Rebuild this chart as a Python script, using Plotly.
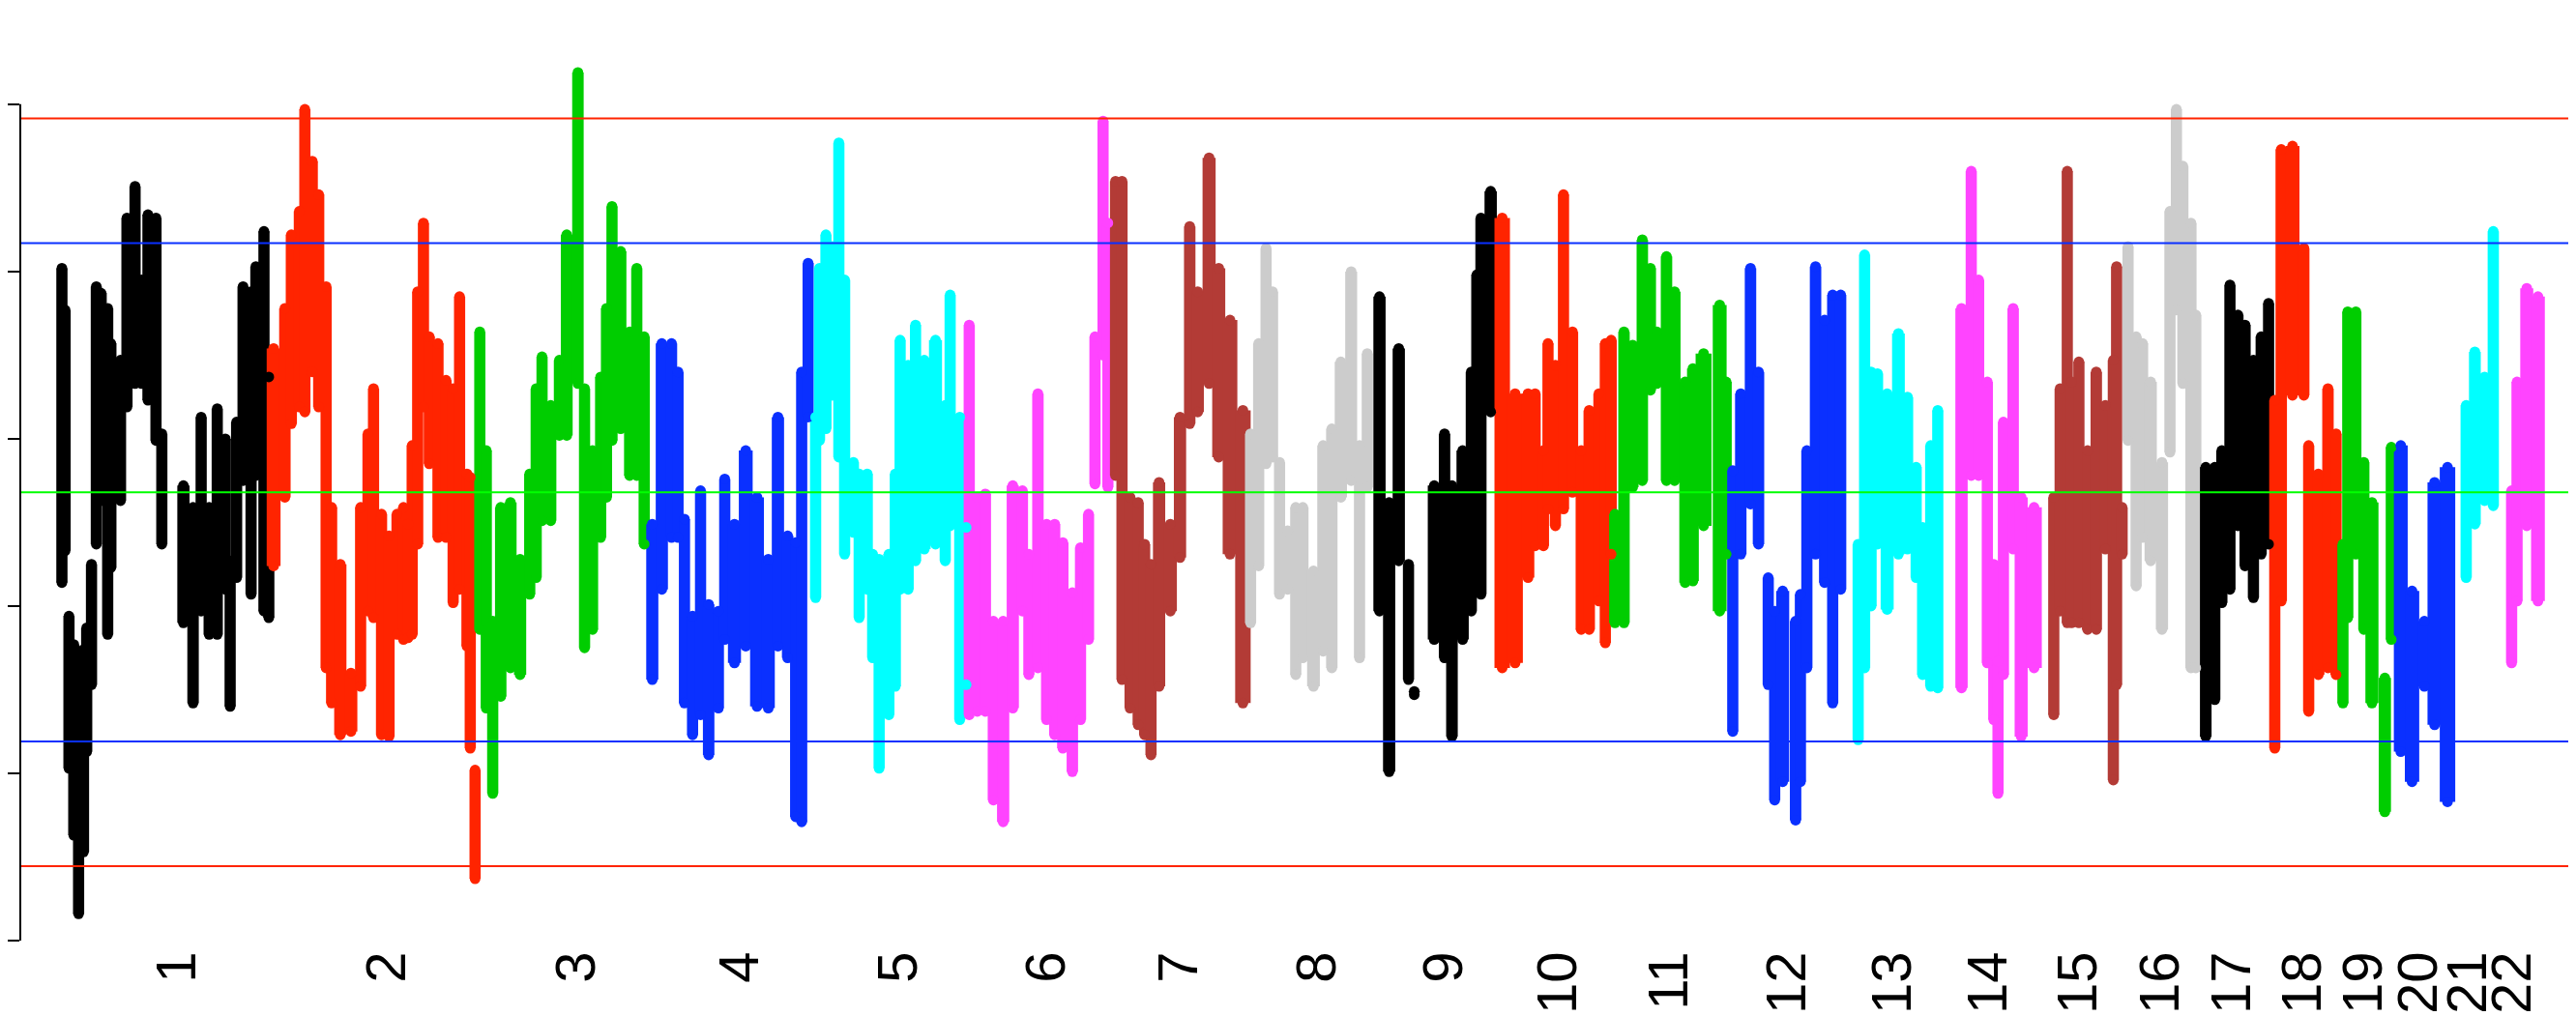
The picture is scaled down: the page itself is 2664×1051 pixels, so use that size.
import plotly.graph_objects as go

# ---------------- data ----------------
CHROMS = [str(i) for i in range(1, 23)]
# visible span of each chromosome on the genome axis (Mb)
CHROM_LEN = [246, 237, 204.5, 185, 183, 167, 158, 146, 143, 137, 135, 139,
             125, 97, 98, 88, 84, 78, 65, 73, 52, 47]
# positions (cumulative Mb) where the chromosome labels sit
LABEL_POS = [137.0, 381.0, 601.0, 791.0, 975.5, 1147.3, 1301.8, 1462.0, 1609.0,
             1742.0, 1871.0, 2008.0, 2130.5, 2241.7, 2346.2, 2441.7, 2524.8,
             2607.0, 2677.6, 2741.7, 2799.0, 2850.7]
PALETTE = ["#000000", "#FF2400", "#00CD00", "#0A30FF",
           "#00FFFF", "#FF44FF", "#B33B36", "#CCCCCC"]

# each chromosome: (position within chromosome in Mb, local max, local min); None = gap
CHR1 = [(3.4, 4.05, 2.11), (7.1, 3.8, 2.3), (11.6, 1.97, 1.0), (17.2, 1.8, 0.6),
        (22.8, 1.6, 0.13), (28.5, 1.77, 0.5), (32.2, 1.9, 1.1), (37.8, 2.28, 1.5),
        (43.4, 3.94, 2.34), (49.0, 3.9, 2.6), (56.6, 3.81, 1.8), (60.3, 3.6, 2.2),
        (65.9, 3.37, 2.75), (71.5, 3.5, 2.6), (79.0, 4.35, 3.16), (88.4, 4.54, 3.30),
        (95.9, 3.98, 3.30), (103.4, 4.37, 3.2), (112.7, 4.35, 2.96), (119.5, 3.06, 2.34),
        None,
        (144.6, 2.75, 1.87), (155.8, 2.62, 1.39), (165.2, 3.16, 1.94), (174.5, 2.62, 1.8),
        (183.9, 3.21, 1.8), (193.3, 3.03, 2.07), (198.9, 2.3, 1.37), (206.4, 3.13, 2.14),
        (213.9, 3.94, 2.72), (223.2, 3.91, 2.04), (228.8, 4.06, 2.75), (238.2, 4.27, 1.94),
        (243.8, 3.4, 1.9)]
CHR2 = [(3.4, 3.57, 2.21), (16.5, 3.81, 2.62), (24.0, 4.25, 3.06), (33.3, 4.39, 3.16),
        (39.7, 5.0, 3.13), (48.3, 4.69, 3.37), (55.8, 4.49, 3.16), (64.4, 3.94, 1.6),
        (70.8, 2.62, 1.39), (80.9, 2.28, 1.20), (93.3, 1.63, 1.22), (104.5, 2.62, 1.49),
        (113.1, 3.06, 1.94), (119.5, 3.33, 1.90), (128.8, 2.58, 1.20), (137.5, 2.45, 1.19),
        (146.8, 2.58, 1.80), (154.3, 2.62, 1.77), (159.6, 2.52, 1.78), (164.4, 2.99, 1.80),
        (170.8, 3.91, 2.34), (177.5, 4.32, 3.16), (184.3, 3.64, 2.82), (194.4, 3.60, 2.38),
        (203.7, 3.38, 2.38), (212.0, 3.33, 1.99), (219.5, 3.88, 2.07), (228.1, 2.82, 1.73),
        (231.9, 2.8, 1.12), (237.5, 1.05, 0.34)]
CHR3 = [(6.0, 3.67, 1.83), (13.5, 2.96, 1.36), (21.0, 1.94, 0.85), (30.3, 2.62, 1.43),
        (41.6, 2.65, 1.6), (52.8, 2.31, 1.56), (64.0, 2.82, 2.04), (71.5, 3.33, 2.14),
        (78.3, 3.52, 2.48), (88.4, 3.23, 2.48), (98.5, 3.50, 2.99), (107.0, 4.25, 2.99),
        (120.0, 5.22, 3.30), (127.7, 3.33, 1.72), (137.0, 2.96, 1.83), (146.4, 3.40, 2.38),
        (153.2, 3.81, 2.62), (159.6, 4.42, 2.96), (169.7, 4.15, 3.03), (180.1, 3.67, 2.75),
        (188.4, 4.05, 2.75), (197.0, 3.64, 2.34)]
CHR4 = [(1.9, 2.52, 1.53), (13.0, 3.60, 2.07), (24.3, 3.60, 2.38), (31.8, 3.43, 2.38),
        (39.3, 2.55, 1.39), (48.7, 1.97, 1.20), (58.0, 2.72, 1.32), (67.4, 2.04, 1.08),
        (78.7, 2.00, 1.36), (86.1, 2.79, 1.77), (97.4, 2.52, 1.63), (110.5, 2.96, 1.73),
        (123.6, 2.68, 1.37), (136.7, 2.31, 1.36), (147.9, 3.16, 1.73), (159.2, 2.45, 1.66),
        (168.5, 2.41, 0.71), (175.5, 3.43, 0.68), (183.0, 4.08, 3.1)]
CHR5 = [(6.7, 3.16, 2.02), (11.2, 4.05, 2.96), (18.7, 4.25, 3.03), (26.2, 4.18, 3.23),
        (33.7, 4.80, 2.86), (40.4, 3.98, 2.28), (50.6, 2.89, 2.41), (57.3, 2.82, 1.90),
        (66.7, 2.82, 2.07), (73.0, 2.34, 1.66), (80.5, 2.31, 1.0), (91.8, 2.34, 1.32),
        (99.3, 2.82, 1.49), (104.9, 3.62, 2.07), (114.2, 3.47, 2.07), (122.8, 3.71, 2.24),
        (133.0, 3.50, 2.31), (146.0, 3.62, 2.34), (157.3, 3.23, 2.24), (163.0, 3.89, 2.45),
        (174.2, 3.16, 1.29), (181.6, 2.5, 1.5)]
CHR6 = [(2.2, 3.71, 1.32), (11.6, 2.68, 1.34), (21.0, 2.70, 1.34), (30.3, 1.94, 0.81),
        (41.6, 1.94, 0.68), (52.8, 2.75, 1.36), (64.0, 2.72, 1.94), (71.5, 2.34, 1.56),
        (82.0, 3.30, 1.6), (92.1, 2.52, 1.29), (101.5, 2.52, 1.20), (110.9, 2.41, 1.12),
        (122.0, 2.11, 0.98), (131.5, 2.38, 1.29), (140.8, 2.58, 1.77), (148.3, 3.64, 2.7),
        (157.7, 4.93, 3.47), (163.3, 4.32, 2.68)]
CHR7 = [(5.2, 4.57, 2.75), (12.7, 4.57, 1.53), (22.1, 2.68, 1.36), (31.5, 2.65, 1.26),
        (39.0, 2.4, 1.2), (46.4, 2.28, 1.08), (55.8, 2.77, 1.49), (68.9, 2.52, 1.94),
        (80.1, 3.16, 2.26), (91.4, 4.30, 3.06), (100.7, 3.91, 3.13), (113.9, 4.71, 3.30),
        (125.1, 4.05, 2.86), (138.2, 3.74, 2.28), (153.2, 3.20, 1.39)]
CHR8 = [(4.1, 3.06, 1.87), (13.5, 3.60, 2.21), (22.1, 4.17, 2.82), (29.6, 3.91, 2.86),
        (37.8, 2.89, 2.04), (47.2, 2.48, 2.07), (56.6, 2.62, 1.56), (64.8, 2.62, 1.66),
        (77.2, 2.24, 1.49), (88.4, 2.99, 1.70), (98.5, 3.09, 1.6), (109.0, 3.49, 2.62),
        (121.0, 4.03, 2.72), (130.7, 2.99, 1.66), (139.7, 3.54, 2.68)]
CHR9 = [(7.9, 3.88, 1.94), (19.1, 2.65, 0.98), (30.3, 3.57, 2.24), (41.6, 2.28, 1.53),
        (48.3, 1.5, 1.46),
        None,
        (71.5, 2.75, 1.77), (83.5, 3.06, 1.66), (92.1, 2.75, 1.19), (104.5, 2.96, 1.77),
        (114.6, 3.43, 1.94), (121.0, 4.01, 2.2), (125.8, 4.35, 2.04), (137.1, 4.51, 3.13)]
CHR10 = [(7.5, 4.35, 1.6), (22.5, 3.30, 1.63), (37.5, 3.30, 2.14), (45.7, 3.30, 2.33),
         (55.4, 2.96, 2.33), (60.7, 3.60, 2.55), (69.3, 3.47, 2.45), (78.7, 4.49, 2.55),
         (89.1, 3.67, 2.65), (99.3, 2.96, 1.83), (108.6, 3.20, 1.83), (119.9, 3.30, 2.0),
         (127.3, 3.60, 1.75), (134.1, 3.62, 2.28)]
CHR11 = [(1.5, 2.58, 1.87), (12.0, 3.67, 1.87), (22.1, 3.59, 2.68), (33.3, 4.22, 2.72),
         (42.7, 4.05, 3.26), (50.2, 3.67, 3.3), (61.4, 4.12, 2.72), (70.8, 3.91, 2.72),
         (83.1, 3.37, 2.11), (92.1, 3.45, 2.12), (104.5, 3.54, 2.45), (123.2, 3.83, 1.94),
         (130.7, 3.37, 2.28)]
CHR12 = [(3.4, 2.84, 1.22), (12.7, 3.30, 2.28), (24.0, 4.05, 2.58), (33.3, 3.43, 2.34),
         (44.6, 2.2, 1.5), (52.1, 2.0, 0.81), (61.4, 2.12, 0.92), (76.4, 1.94, 0.69),
         (82.0, 2.1, 0.92), (89.5, 2.96, 1.60), (99.6, 4.06, 2.28), (110.1, 3.74, 2.11),
         (119.5, 3.89, 1.39), (128.8, 3.89, 2.07)]
CHR13 = [(10.1, 2.4, 1.17), (17.6, 4.13, 1.6), (25.1, 3.43, 1.97), (32.6, 3.42, 2.34),
         (43.8, 3.30, 1.95), (56.9, 3.66, 2.28), (67.4, 3.28, 2.31), (77.5, 2.86, 2.14),
         (85.0, 2.5, 1.56), (94.4, 2.99, 1.49), (102.6, 3.20, 1.48)]
CHR14 = [(5.2, 3.81, 1.48), (16.5, 4.63, 2.75), (25.1, 3.98, 2.75), (35.2, 3.37, 1.63),
         (42.7, 2.28, 1.29), (47.6, 1.7, 0.85), (53.9, 3.13, 1.56), (65.2, 3.81, 2.31),
         (74.5, 2.68, 1.19), (89.5, 2.62, 1.6)]
CHR15 = [(15.4, 2.68, 1.32), (22.8, 3.33, 1.94), (31.1, 4.63, 1.87), (36.0, 3.37, 1.87),
         (44.6, 3.49, 1.87), (54.7, 2.96, 1.83), (64.8, 3.43, 1.83), (75.3, 3.23, 2.31),
         (84.6, 3.5, 0.93), (88.4, 4.06, 1.5), (94.8, 2.62, 2.28)]
CHR16 = [(3.7, 4.18, 2.96), (13.1, 3.64, 2.09), (20.6, 3.60, 2.38), (30.0, 3.37, 2.24),
         (43.1, 2.89, 1.83), (52.4, 4.39, 2.89), (59.9, 5.0, 3.74), (67.4, 4.66, 3.30),
         (76.8, 4.32, 1.6), (82.4, 3.77, 1.6)]
CHR17 = [(6.0, 2.86, 1.19), (16.5, 2.86, 1.41), (24.7, 2.96, 1.99), (34.1, 3.95, 2.07),
         (43.4, 3.77, 2.45), (51.7, 3.71, 2.21), (61.4, 3.50, 2.02), (70.4, 3.64, 2.28),
         (79.0, 3.84, 2.34)]
CHR18 = [(2.2, 3.26, 1.12), (9.7, 4.76, 2.0), (22.8, 4.78, 3.23), (36.0, 4.17, 3.23),
         (41.6, 2.99, 1.34), (52.8, 2.82, 1.56), (64.0, 3.33, 1.6), (73.4, 3.06, 1.56)]
CHR19 = [(3.4, 2.4, 1.39), (9.0, 3.79, 1.9), (18.4, 3.79, 2.28), (27.7, 2.89, 1.83),
         (37.1, 2.65, 1.39), (52.1, 1.6, 0.74), (59.6, 2.98, 1.77)]
CHR20 = [(5.6, 2.99, 1.10), (18.7, 2.12, 0.92), (33.0, 1.94, 1.49), (44.9, 2.77, 1.26),
         (59.9, 2.86, 0.80)]
CHR21 = [(8.6, 3.23, 2.14), (18.7, 3.55, 2.46), (30.0, 3.4, 2.6), (40.1, 4.27, 2.57)]
CHR22 = [(9.4, 2.72, 1.63), (15.7, 3.37, 2.0), (27.0, 3.93, 2.45), (40.0, 3.88, 2.0)]

CHR_DATA = [CHR1, CHR2, CHR3, CHR4, CHR5, CHR6, CHR7, CHR8, CHR9, CHR10, CHR11,
            CHR12, CHR13, CHR14, CHR15, CHR16, CHR17, CHR18, CHR19, CHR20, CHR21, CHR22]

# genome-wide mean and standard deviation (threshold lines at +-2 SD and +-3 SD)
MEAN = 2.68
SD = 0.745
Y_TICKS = [0, 1, 2, 3, 4, 5]

MIN_W = 13.0     # minimum stroke width in Mb (about one plotting dot)
CAP = 0.03       # dot radius expressed in y units (rounded stroke ends)

# ---------------- figure ----------------
fig = go.Figure()

offset = 0.0
for idx, (rows, length) in enumerate(zip(CHR_DATA, CHROM_LEN)):
    col = PALETTE[idx % len(PALETTE)]
    runs, cur = [], []
    for r in rows:
        if r is None:
            if cur:
                runs.append(cur)
            cur = []
        else:
            cur.append(r)
    if cur:
        runs.append(cur)
    xs, bases, heights, widths, tops = [], [], [], [], []
    for run in runs:
        n = len(run)
        for i, (p, hi, lo) in enumerate(run):
            left = (p - run[i - 1][0]) if i > 0 else None
            right = (run[i + 1][0] - p) if i < n - 1 else None
            if left is None and right is None:
                w = MIN_W
            elif left is None:
                w = right
            elif right is None:
                w = left
            else:
                w = (left + right) / 2
            w = max(MIN_W, w + 3)
            xs.append(offset + p)
            bases.append(lo + CAP)
            heights.append(max(hi - lo - 2 * CAP, 0.001))
            tops.append(hi - CAP)
            widths.append(w)
    fig.add_trace(go.Bar(
        x=xs, y=heights, base=bases, width=widths,
        marker=dict(color=col, line=dict(width=0)),
        hoverinfo="skip", showlegend=False))
    fig.add_trace(go.Scatter(
        x=xs + xs, y=tops + bases,
        mode="markers", marker=dict(color=col, size=11, line=dict(width=0)),
        hoverinfo="skip", showlegend=False))
    offset += length

shapes = []
for val, col in [(MEAN + 3 * SD, "#FF2400"), (MEAN + 2 * SD, "#0A30FF"),
                 (MEAN, "#00FF00"), (MEAN - 2 * SD, "#0A30FF"),
                 (MEAN - 3 * SD, "#FF2400")]:
    shapes.append(dict(type="line", xref="paper", x0=0, x1=1, yref="y",
                       y0=val, y1=val, line=dict(color=col, width=2), layer="above"))
# R-style y axis line spanning first to last tick
shapes.append(dict(type="line", xref="paper", x0=0, x1=0, yref="y",
                   y0=Y_TICKS[0], y1=Y_TICKS[-1], line=dict(color="black", width=2)))

X0 = -44.94
X1 = 2933.7
fig.update_layout(
    width=2664, height=1051,
    margin=dict(l=13, r=0, t=0, b=76, pad=0),
    paper_bgcolor="white", plot_bgcolor="white",
    showlegend=False,
    barmode="overlay",
    shapes=shapes,
    xaxis=dict(range=[X0, X1], showgrid=False, zeroline=False, showline=False,
               tickmode="array", tickvals=LABEL_POS, ticktext=CHROMS,
               tickangle=-90, ticks="", ticklabelstandoff=-11,
               tickfont=dict(family="Liberation Sans, Arial", size=58, color="black")),
    yaxis=dict(range=[-0.0577, 5.577], showgrid=False, zeroline=False, showline=False,
               tickmode="array", tickvals=Y_TICKS, ticks="outside", ticklen=13,
               tickwidth=2, tickcolor="black", showticklabels=False),
)

fig.write_html("out.html")
